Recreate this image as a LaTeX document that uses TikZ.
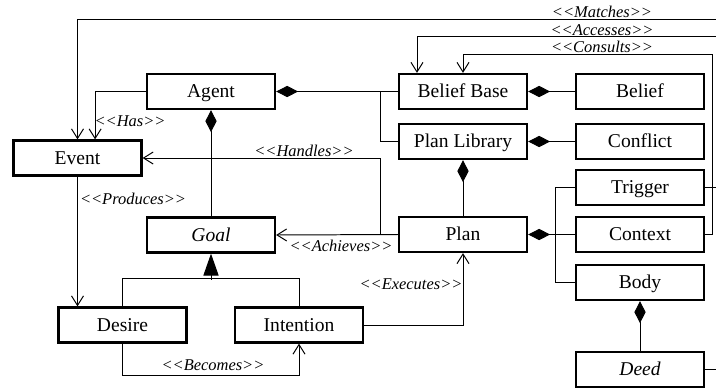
\documentclass[tikz,border=0pt]{standalone}
\usepackage{fontspec}
\setmainfont{Liberation Serif}
\usepackage{tikz}
\usetikzlibrary{arrows.meta, calc, positioning}

\begin{document}
\begin{tikzpicture}[x=0.025cm, y=-0.025cm,
  cls/.style={draw, line width=1.6pt, minimum width=3.2cm, minimum height=0.875cm,
    inner sep=0pt, text height=0.98em, text depth=0.12em,
    font=\fontsize{13.9}{16}\selectfont},
  lbl/.style={font=\fontsize{11.7}{14}\selectfont\itshape, inner sep=0pt},
  dep/.style={-{Straight Barb[length=2.4mm, width=3mm]}},
  comp/.style={{Diamond[length=5.5mm, width=2.8mm]}-},
  gen/.style={-{Triangle[length=5.5mm, width=3.8mm]}}]
  \useasboundingbox (0,0) rectangle (716,389);
  \tikzset{every path/.style={line width=0.7pt}}

  % Classes
  \node[cls] (agent) at (211,91.5) {Agent};
  \node[cls] (event) at (77.5,158) {Event};
  \node[cls] (goal) at (211,235) {\itshape Goal};
  \node[cls] (desire) at (122.5,325) {Desire};
  \node[cls] (intention) at (299,325) {Intention};
  \node[cls] (bbase) at (463,91.5) {Belief Base};
  \node[cls] (plib) at (463,141.5) {Plan Library};
  \node[cls] (plan) at (463,234.5) {Plan};
  \node[cls] (belief) at (640,91.5) {Belief};
  \node[cls] (conflict) at (640,141.5) {Conflict};
  \node[cls] (trigger) at (640,187.5) {Trigger};
  \node[cls] (context) at (640,234.5) {Context};
  \node[cls] (body) at (640,282.5) {Body};
  \node[cls] (deed) at (640,369.5) {\itshape Deed};

  % Loose ends at the right border
  \coordinate (mR) at (716,19.5);
  \coordinate (aR) at (716,36.7);
  \coordinate (cR) at (712,54);

  % Composition
  \draw[comp] (agent.east) -- (bbase.west);
  \draw ($(bbase.west)+(-17,0)$) |- (plib.west);
  \draw[comp] (agent.south) -- (goal.north);
  \draw[comp] (bbase.east) -- (belief.west);
  \draw[comp] (plib.east) -- (conflict.west);
  \draw[comp] (plib.south) -- (plan.north);
  \draw[comp] (plan.east) -- (context.west);
  \draw (trigger.west) -- ++(-19,0) |- (body.west);
  \draw[comp] (body.south) -- (deed.north);

  % Generalization
  \coordinate (gj) at ($(goal.south)+(0,26)$);
  \draw[gen] (gj) -- (goal.south);
  \draw (desire.north) -- ++(0,-28) -| (intention.north);

  % Dependencies
  \draw[dep] (agent.west) -| ([xshift=4.4mm]event.north);
  \draw[dep] (mR) -| (event.north);
  \draw[dep] (aR) -| ([xshift=-11.5mm]bbase.north);
  \draw[dep] (context.east) -| (cR) -| (bbase.north);
  \draw (trigger.east) -- (trigger.east -| mR);
  \draw (deed.east) -- (deed.east -| mR);
  \draw[dep] (plan.west) -- ++(-17,0) |- (event.east);
  \draw[dep] (plan.west) -- (goal.east);
  \draw[dep] (event.south) -- (event.south |- desire.north);
  \draw[dep] (desire.south) -- ++(0,32) -| (intention.south);
  \draw[dep] (intention.east) -| (plan.south);

  % Stereotype labels
  \node[lbl] at (602,12) {<{}<Matches>{}>};
  \node[lbl] at (602,30) {<{}<Accesses>{}>};
  \node[lbl] at (602,47) {<{}<Consults>{}>};
  \node[lbl] at (130,121) {<{}<Has>{}>};
  \node[lbl] at (304,151) {<{}<Handles>{}>};
  \node[lbl] at (341,246) {<{}<Achieves>{}>};
  \node[lbl] at (133,199) {<{}<Produces>{}>};
  \node[lbl] at (213,365) {<{}<Becomes>{}>};
  \node[lbl] at (411,284) {<{}<Executes>{}>};
\end{tikzpicture}
\end{document}
